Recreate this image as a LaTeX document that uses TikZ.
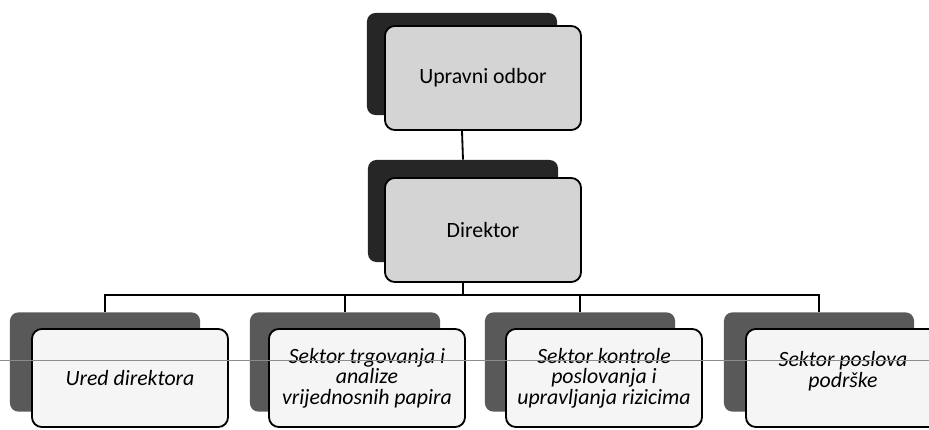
\documentclass[tikz,border=0pt]{standalone}
\usepackage{fontspec}
\setmainfont{Carlito}
\usetikzlibrary{positioning}
\tikzset {
karta/.style={shape=rectangle,draw,rounded corners=7pt,line width=1.3pt,minimum width=4.9cm,minimum height=2.6cm,fill=black!17,align=center,font=\fontsize{15.5}{14.5}\selectfont},
sektor/.style={karta,fill=black!4,minimum height=2.45cm,font=\fontsize{15.5}{14.5}\selectfont\itshape},
sjena/.style={shape=rectangle,rounded corners=6pt,minimum width=4.75cm,minimum height=2.55cm,fill=black!85},
sjena dolje/.style={sjena,fill=black!65,minimum height=2.48cm},
vod/.style={line width=1.3pt}
}
\begin{document}
\begin{tikzpicture}
[x=0.025cm,y=-0.025cm]
\useasboundingbox (0,0) rectangle (929,429);
\clip (0,0) rectangle (929,429);
% sjene
\node[sjena] (sjena uprava) at (462,64) {};
\node[sjena] (sjena direktor) at (463,211) {};
\node[sjena dolje] (sjena s1) at (105,362) {};
\node[sjena dolje] (sjena s2) at (345,362) {};
\node[sjena dolje] (sjena s3) at (580,362) {};
\node[sjena dolje] (sjena s4) at (819,362) {};
% kutije
\node[karta] (uprava) at (483,78) {Upravni odbor};
\node[karta] (direktor) at (483,230) {Direktor};
\node[sektor] (s1) at (130,378) {Ured direktora};
\node[sektor] (s2) at (367,378) {Sektor trgovanja i\\analize\\vrijednosnih papira};
\node[sektor] (s3) at (604,378) {Sektor kontrole\\poslovanja i\\upravljanja rizicima};
\node[sektor,minimum width=5.7cm] (s4) at (860,378) {};
\node[font=\fontsize{15.5}{14.5}\selectfont\itshape,align=center] (s4 tekst) at (843,371) {Sektor poslova\\podrške};

\draw[vod] (uprava.south -| sjena uprava) -- (sjena direktor.north);
\foreach \i in {1,...,4}
  \draw[vod] (direktor.south -| sjena direktor) -- ++(0,12) -| (sjena s\i.north);

% linija preko stranice
\coordinate (lijevo) at (0,360);
\coordinate (desno) at (929,360);
\draw[black!45,line width=0.5pt] (lijevo) -- (desno);
\end{tikzpicture}
\end{document}
